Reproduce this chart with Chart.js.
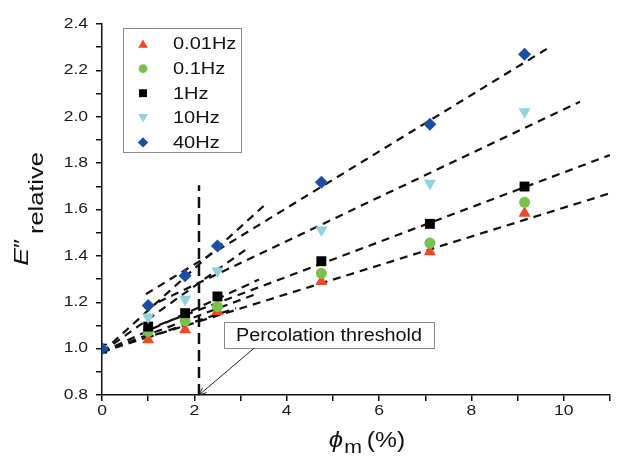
<!DOCTYPE html>
<html><head><meta charset="utf-8">
<script src="https://cdn.jsdelivr.net/npm/chart.js@4.4.1/dist/chart.umd.min.js"></script>
<style>html,body{margin:0;padding:0;background:#fff}#wrap{width:621px;height:459px}</style>
</head><body><div id="wrap"><canvas id="c" width="621" height="459"></canvas></div>
<script>
// ---- data ----
const phi = [0, 1.0, 1.8, 2.5, 4.75, 7.1, 9.15];
const seriesLabels = ['0.01Hz', '0.1Hz', '1Hz', '10Hz', '40Hz'];
const e001 = [1.0, 1.038, 1.081, 1.160, 1.289, 1.418, 1.584];
const e01  = [1.0, 1.074, 1.120, 1.181, 1.325, 1.455, 1.631];
const e1   = [1.0, 1.095, 1.153, 1.225, 1.377, 1.538, 1.699];
const e10  = [1.0, 1.136, 1.213, 1.335, 1.512, 1.713, 2.022];
const e40  = [1.0, 1.186, 1.314, 1.443, 1.718, 1.968, 2.270];

// dashed linear fits: [start, end] in data units
const fitHigh40  = [{x: 0.95, y: 1.235}, {x: 9.65, y: 2.295}];
const fitHigh10  = [{x: 0.95, y: 1.175}, {x: 10.35, y: 2.065}];
const fitHigh1   = [{x: 0.95, y: 1.081}, {x: 11.0, y: 1.835}];
const fitHigh001 = [{x: 0.95, y: 1.046}, {x: 11.0, y: 1.670}];
const fitLow40   = [{x: 0, y: 0.985}, {x: 3.5, y: 1.615}];
const fitLow10   = [{x: 0, y: 0.985}, {x: 3.1, y: 1.425}];
const fitLow1    = [{x: 0, y: 0.985}, {x: 3.4, y: 1.298}];
const fitLow01   = [{x: 0, y: 0.985}, {x: 3.3, y: 1.233}];
const fitLow001  = [{x: 0, y: 0.985}, {x: 2.9, y: 1.174}];
const threshold  = [{x: 2.1, y: 0.8}, {x: 2.1, y: 1.705}];
const annotationText = 'Percolation threshold';
const xTicksShown = [0, 2, 4, 6, 8, 10];
const yTicksShown = [0.8, 1.0, 1.2, 1.4, 1.6, 1.8, 2.0, 2.2, 2.4];

const FONT = "'Liberation Sans', Arial, sans-serif";
const styles = [
  {color: '#ef4a26', style: 'triangle', r: 7, rot: 0},
  {color: '#78c24c', style: 'circle', r: 5.5, rot: 0},
  {color: '#000000', style: 'rect', r: 7, rot: 0},
  {color: '#8fd4dc', style: 'triangle', r: 7, rot: 180},
  {color: '#1c4ea3', style: 'rectRot', r: 6.5, rot: 0}
];
const values = [e001, e01, e1, e10, e40];

const datasets = [];
for (let i = 4; i >= 0; i--) {
  const s = styles[i];
  datasets.push({
    label: seriesLabels[i],
    data: phi.map((x, k) => ({x: x, y: values[i][k]})),
    showLine: false,
    pointStyle: s.style, pointRadius: s.r, pointRotation: s.rot,
    pointBackgroundColor: s.color, pointBorderColor: s.color, pointBorderWidth: 0,
    order: 0
  });
}
[fitHigh40, fitHigh10, fitHigh1, fitHigh001, fitLow40, fitLow10, fitLow1, fitLow01, fitLow001].forEach(d => {
  datasets.push({data: d, showLine: true, pointRadius: 0, borderColor: '#111', borderWidth: 2.2,
    borderDash: [8, 6], fill: false, order: 1});
});
datasets.push({data: threshold, showLine: true, pointRadius: 0, borderColor: '#111', borderWidth: 2.5,
  borderDash: [11, 6], fill: false, order: 1});

// text drawn with a horizontal stretch along its baseline (reference glyphs are wide)
function textS(ctx, t, x, y, sx, align) {
  const w = ctx.measureText(t).width * sx;
  const x0 = align === 'center' ? x - w / 2 : align === 'right' ? x - w : x;
  ctx.save(); ctx.translate(x0, y); ctx.scale(sx, 1); ctx.textAlign = 'left'; ctx.fillText(t, 0, 0); ctx.restore();
  return w;
}
function drawParts(ctx, parts, x, y, sx) {
  let w = 0;
  parts.forEach(p => { ctx.font = p.font; p.w = ctx.measureText(p.t).width * sx; w += p.w + (p.gap || 0); });
  let cx = x - w / 2;
  parts.forEach(p => { ctx.font = p.font; textS(ctx, p.t, cx, y + (p.dy || 0), sx, 'left'); cx += p.w + (p.gap || 0); });
}

const extras = {
  id: 'extras',
  afterDraw(chart) {
    const ctx = chart.ctx, a = chart.chartArea;
    const xs = chart.scales.x, ys = chart.scales.y;
    ctx.save();
    ctx.fillStyle = '#1a1a1a';
    ctx.textBaseline = 'middle';
    // tick labels (from the library's scales)
    ctx.font = '14px ' + FONT;
    xs.ticks.forEach((tk, i) => {
      if (xTicksShown.includes(tk.value)) textS(ctx, String(tk.value), xs.getPixelForTick(i), a.bottom + 16, 1.25, 'center');
    });
    ys.ticks.forEach((tk, i) => {
      const m = yTicksShown.find(t => Math.abs(t - tk.value) < 1e-6);
      if (m !== undefined) textS(ctx, m.toFixed(1), a.left - 14, ys.getPixelForTick(i), 1.25, 'right');
    });

    ctx.fillStyle = '#111';
    ctx.textBaseline = 'alphabetic';
    // x title: phi_m (%)
    drawParts(ctx, [
      {t: 'ϕ', font: 'italic 23px ' + FONT, gap: 1},
      {t: 'm', font: '19px ' + FONT, dy: 6, gap: 5},
      {t: '(%)', font: '22px ' + FONT}
    ], (a.left + a.right) / 2 + 11, 447, 1.12);
    // y title: E''_relative
    ctx.save();
    ctx.translate(28, 209);
    ctx.rotate(-Math.PI / 2);
    drawParts(ctx, [
      {t: 'E', font: 'italic 21px ' + FONT, gap: 0},
      {t: '″', font: '20px ' + FONT, gap: 5},
      {t: 'relative', font: '20px ' + FONT, dy: 15}
    ], 0, 0, 1.27);
    ctx.restore();

    // legend box
    const lx = a.left + 21, ly = a.top + 4, lw = 118, lh = 124;
    ctx.fillStyle = '#ffffff';
    ctx.fillRect(lx, ly, lw, lh);
    ctx.strokeStyle = '#8a8a8a'; ctx.lineWidth = 1;
    ctx.strokeRect(lx + 0.5, ly + 0.5, lw, lh);
    ctx.font = '16px ' + FONT;
    ctx.textBaseline = 'middle';
    for (let i = 0; i < 5; i++) {
      const s = styles[i];
      const yy = ly + 16 + i * 24.6;
      ctx.fillStyle = s.color; ctx.strokeStyle = s.color; ctx.lineWidth = 0.01;
      Chart.helpers.drawPoint(ctx, {pointStyle: s.style, radius: s.r * 0.8, rotation: s.rot, borderWidth: 0},
        lx + 20, yy + (s.style === 'triangle' ? (s.rot ? -1 : 1) : 0));
      ctx.fillStyle = '#111';
      textS(ctx, seriesLabels[i], lx + 50, yy + 1, 1.25, 'left');
    }

    // annotation box and arrow
    const bx0 = xs.getPixelForValue(2.64), bx1 = xs.getPixelForValue(7.19);
    const by0 = ys.getPixelForValue(1.115), by1 = ys.getPixelForValue(1.003);
    ctx.fillStyle = '#ffffff';
    ctx.fillRect(bx0, by0, bx1 - bx0, by1 - by0);
    ctx.strokeStyle = '#8a8a8a'; ctx.lineWidth = 1;
    ctx.strokeRect(Math.round(bx0) + 0.5, Math.round(by0) + 0.5, Math.round(bx1 - bx0), Math.round(by1 - by0));
    ctx.fillStyle = '#111'; ctx.textBaseline = 'middle';
    ctx.font = '18px ' + FONT;
    textS(ctx, annotationText, (bx0 + bx1) / 2, (by0 + by1) / 2 + 1, 1.1, 'center');
    const ax0 = xs.getPixelForValue(3.3), ay0 = by1;
    const ax1 = xs.getPixelForValue(threshold[0].x), ay1 = ys.getPixelForValue(0.8);
    ctx.strokeStyle = '#222'; ctx.lineWidth = 1;
    ctx.beginPath(); ctx.moveTo(ax0, ay0); ctx.lineTo(ax1, ay1); ctx.stroke();
    const ang = Math.atan2(ay1 - ay0, ax1 - ax0);
    ctx.beginPath();
    ctx.moveTo(ax1 - 8 * Math.cos(ang - 0.4), ay1 - 8 * Math.sin(ang - 0.4));
    ctx.lineTo(ax1, ay1);
    ctx.lineTo(ax1 - 8 * Math.cos(ang + 0.4), ay1 - 8 * Math.sin(ang + 0.4));
    ctx.stroke();
    ctx.restore();
  }
};

new Chart(document.getElementById('c'), {
  type: 'scatter',
  data: {datasets: datasets},
  options: {
    responsive: false, animation: false, devicePixelRatio: 1,
    layout: {padding: {top: 24, right: 11, left: 0, bottom: 0}},
    plugins: {legend: {display: false}, tooltip: {enabled: false}},
    scales: {
      x: {
        type: 'linear', min: 0, max: 11,
        afterFit: s => { s.height = 64; },
        border: {display: true, color: '#111', width: 1.5},
        grid: {display: true, drawOnChartArea: false, drawTicks: true, tickLength: 6, color: '#111', lineWidth: 1.5},
        ticks: {display: false, stepSize: 1, autoSkip: false, maxRotation: 0}
      },
      y: {
        type: 'linear', min: 0.8, max: 2.4,
        afterFit: s => { s.width = 102; },
        border: {display: true, color: '#111', width: 1.5},
        grid: {display: true, drawOnChartArea: false, drawTicks: true, tickLength: 6, color: '#111', lineWidth: 1.5},
        ticks: {display: false, stepSize: 0.1, autoSkip: false}
      }
    }
  },
  plugins: [extras]
});
</script>
</body></html>
